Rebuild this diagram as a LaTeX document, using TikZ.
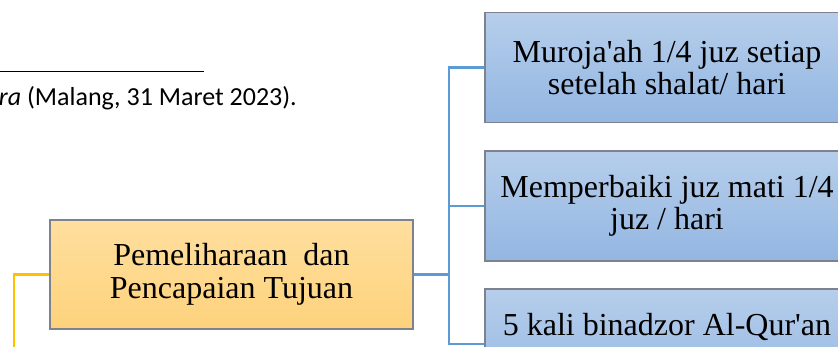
\documentclass[tikz,border=0pt]{standalone}
\usepackage{fontspec}
\setmainfont{Liberation Serif}
\newfontfamily\notefont{Carlito}
\definecolor{yeltop}{RGB}{255,223,158}
\definecolor{yelbot}{RGB}{253,210,124}
\definecolor{bluetop}{RGB}{182,206,235}
\definecolor{bluebot}{RGB}{147,182,226}
\definecolor{boxline}{RGB}{125,130,140}
\definecolor{linkblue}{RGB}{91,155,213}
\definecolor{linkgold}{RGB}{255,192,0}
\newcommand{\apos}{\textquotesingle}
\tikzset{
  boxtext/.style={font=\fontsize{32}{32.5}\selectfont},
  goalbox/.style={draw=boxline, line width=1.2pt, top color=yeltop, bottom color=yelbot,
    minimum width=363pt, minimum height=109pt, inner sep=0pt, align=center, boxtext},
  stepbox/.style={draw=boxline, line width=1.2pt, top color=bluetop, bottom color=bluebot,
    minimum width=364pt, minimum height=110pt, inner sep=0pt, align=center, boxtext},
  bluelink/.style={draw=linkblue, line width=2.6pt},
  goldlink/.style={draw=linkgold, line width=2.2pt}
}
\begin{document}
\begin{tikzpicture}[x=1pt,y=-1pt]
\useasboundingbox (0,0) rectangle (838,346);
\clip (0,0) rectangle (838,346);
\fill[white] (0,0) rectangle (838,346);

% footnote rule and source line
\coordinate (ruleL) at (-2,71.5);
\coordinate (ruleR) at (204,71.5);
\draw[line width=1.6pt] (ruleL) -- (ruleR);
\node[anchor=base east, inner sep=0pt, font=\notefont\fontsize{26}{30}\selectfont] (note) at (297,105)
  {\textit{ra} (Malang, 31 Maret 2023).};

% main goal
\node[goalbox] (goal) at (231.5,274.5) {Pemeliharaan\ \ dan\\Pencapaian Tujuan};

% steps
\node[stepbox] (s1) at (667,67.5) {Muroja\apos ah 1/4 juz setiap\\setelah shalat/ hari};
\node[stepbox] (s2) at (667,206) {Memperbaiki juz mati 1/4\\juz / hari};
\node[stepbox] (s3) at (667,344) {};
\node[anchor=base, inner sep=0pt, boxtext] (s3text) at (667,335) {5 kali binadzor Al-Qur\apos an};

% connectors
\coordinate (bus) at (449,274.5);
\coordinate (goldcorner) at (14,274.5);
\coordinate (goldend) at (14,350);
\draw[bluelink] (goal.east) -- (bus);
\draw[bluelink] (s1.west) -| (bus);
\draw[bluelink] (s2.west) -- (s2.west -| bus);
\draw[bluelink] (s3.west) -| (bus);
\draw[goldlink] (goal.west) -- (goldcorner) -- (goldend);
\end{tikzpicture}
\end{document}
